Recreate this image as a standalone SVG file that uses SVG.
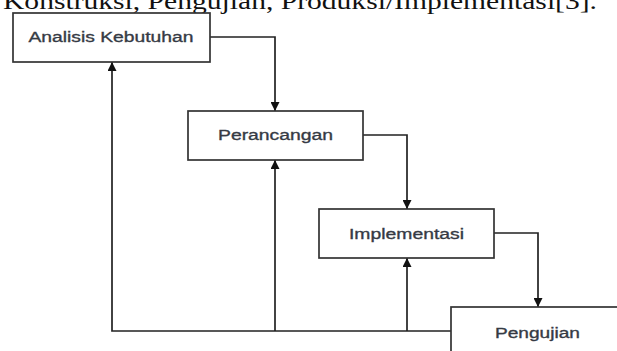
<svg xmlns="http://www.w3.org/2000/svg" width="617" height="351" viewBox="0 0 617 351">
<style>
.box{fill:#fff;stroke:#333;stroke-width:1.7}
.lbl{font-family:"Liberation Sans",Arial,sans-serif;font-size:15.5px;fill:#353a44;stroke:#353a44;stroke-width:0.35;text-anchor:middle}
.conn{fill:none;stroke:#222;stroke-width:1.7}
.cap{font-family:"Liberation Serif","Times New Roman",serif;font-size:24px;fill:#111}
</style>
<defs>
<marker id="arr" viewBox="0 0 10 10" refX="10" refY="5" markerWidth="10" markerHeight="9" markerUnits="userSpaceOnUse" orient="auto">
<path d="M0,0 L10,5 L0,10 z" fill="#111"/>
</marker>
</defs>
<rect width="617" height="351" fill="#fff"/>
<text class="cap" x="3" y="8.5" textLength="594" lengthAdjust="spacingAndGlyphs">Konstruksi, Pengujian, Produksi/Implementasi[3].</text>
<g id="connectors">
<path class="conn" d="M210 37 H275 V111" marker-end="url(#arr)"/>
<path class="conn" d="M363 135 H407 V209" marker-end="url(#arr)"/>
<path class="conn" d="M494 233 H538 V307" marker-end="url(#arr)"/>
<path class="conn" d="M451 331 H112 V62" marker-end="url(#arr)"/>
<path class="conn" d="M275 331 V160" marker-end="url(#arr)"/>
<path class="conn" d="M407 331 V258" marker-end="url(#arr)"/>
</g>
<g id="analisis">
<rect class="box" x="13" y="13" width="197" height="49"/>
<text class="lbl" x="111" y="42" textLength="165" lengthAdjust="spacingAndGlyphs">Analisis Kebutuhan</text>
</g>
<g id="perancangan">
<rect class="box" x="188" y="111" width="175" height="49"/>
<text class="lbl" x="275.5" y="140" textLength="115" lengthAdjust="spacingAndGlyphs">Perancangan</text>
</g>
<g id="implementasi">
<rect class="box" x="319" y="209" width="175" height="49"/>
<text class="lbl" x="406.5" y="239" textLength="115" lengthAdjust="spacingAndGlyphs">Implementasi</text>
</g>
<g id="pengujian">
<rect class="box" x="451" y="307" width="200" height="60"/>
<text class="lbl" x="537.5" y="338" textLength="85" lengthAdjust="spacingAndGlyphs">Pengujian</text>
</g>
</svg>
